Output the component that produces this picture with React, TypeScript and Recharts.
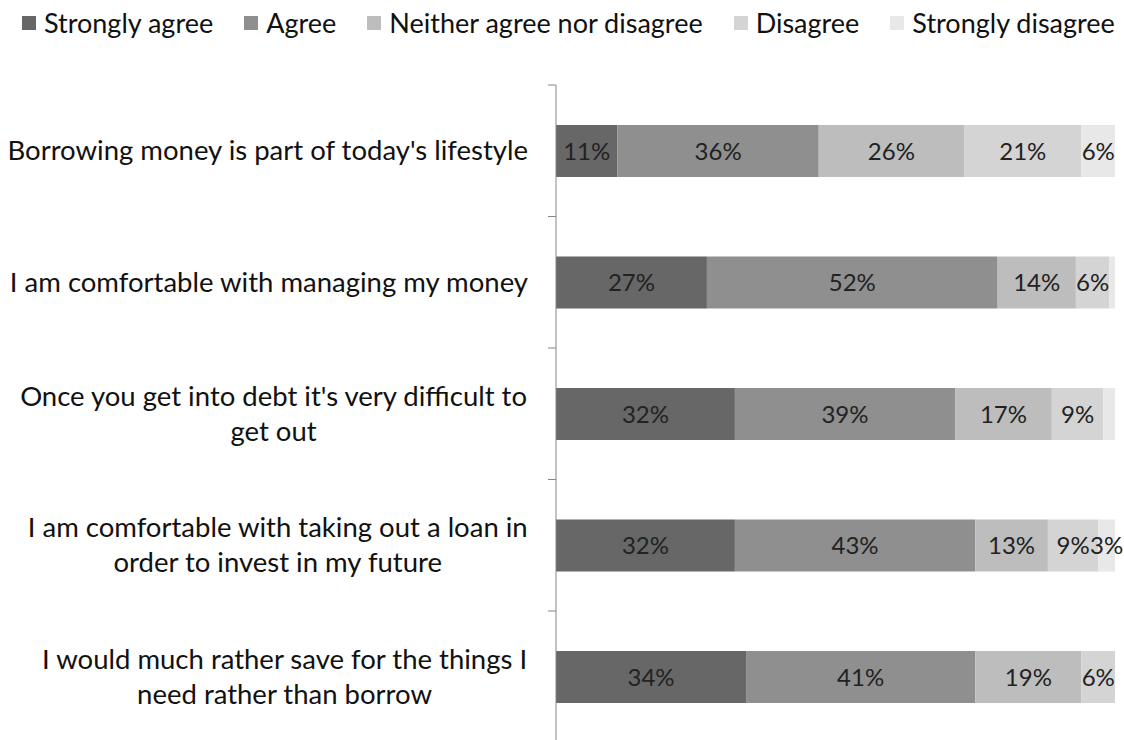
import React from 'react';
import { BarChart, Bar, XAxis, YAxis, LabelList } from 'recharts';

// category text, already broken into lines like the original
const categoryLines: string[][] = [
  ["Borrowing money is part of today's lifestyle"],
  ['I am comfortable with managing my money'],
  ["Once you get into debt it's very difficult to", 'get out'],
  ['I am comfortable with taking out a loan in', 'order to invest in my future'],
  ['I would much rather save for the things I', 'need rather than borrow'],
];

const seriesNames = ['Strongly agree', 'Agree', 'Neither agree nor disagree', 'Disagree', 'Strongly disagree'];
const seriesColors = ['#676767', '#8f8f8f', '#bdbdbd', '#d4d4d4', '#e8e8e8'];

const stronglyAgree = [11, 27, 32, 32, 34];
const agree = [36, 52, 39.4, 43, 41];
const neither = [26, 14, 17.3, 13, 19];
const disagree = [21, 6, 9.2, 9, 6];
const stronglyDisagree = [6, 1, 2.1, 3, 0];

const keys = ['sa', 'a', 'n', 'd', 'sd'];
const seriesValues = [stronglyAgree, agree, neither, disagree, stronglyDisagree];

const data = categoryLines.map((lines, i) => {
  const row: any = { name: lines.join(' ') };
  keys.forEach((k, s) => { row[k] = seriesValues[s][i]; });
  return row;
});

const FONT = 'Lato, "Open Sans", sans-serif';
const CAT_SIZE = 27.5;
const LABEL_SIZE = 24;
const W = 1124;
const H = 745;
const TOP = 85;
const AXIS_W = 556;
const RIGHT = 9;
const PLOT_H = 657.5;
const BAND = PLOT_H / categoryLines.length;

let measureCtx: CanvasRenderingContext2D | null = null;
const measure = (s: string) => {
  if (!measureCtx) {
    measureCtx = document.createElement('canvas').getContext('2d');
  }
  if (!measureCtx) return s.length * 12;
  measureCtx.font = `${CAT_SIZE}px ${FONT}`;
  return measureCtx.measureText(s).width;
};

const CategoryTick = (props: any) => {
  const { y, index } = props;
  const lines = categoryLines[index] || [];
  const right = AXIS_W - 28;
  const maxW = Math.max(...lines.map(measure));
  const cx = right - maxW / 2;
  const lh = 35;
  const startY = y - ((lines.length - 1) * lh) / 2;
  return (
    <g>
      <line x1={AXIS_W - 8} x2={AXIS_W} y1={y - BAND / 2} y2={y - BAND / 2} stroke="#868686" />
      {index === categoryLines.length - 1 && (
        <line x1={AXIS_W - 8} x2={AXIS_W} y1={y + BAND / 2} y2={y + BAND / 2} stroke="#868686" />
      )}
      {lines.map((l, i) => (
        <text
          key={i}
          x={lines.length > 1 ? cx : right}
          y={startY + i * lh}
          dy="0.35em"
          textAnchor={lines.length > 1 ? 'middle' : 'end'}
          fontFamily={FONT}
          fontSize={CAT_SIZE}
          fill="#111"
        >
          {l}
        </text>
      ))}
    </g>
  );
};

const fmt = (v: any) => (Number(v) >= 2.5 ? `${Math.round(Number(v))}%` : '');

export default function App() {
  return (
    <div style={{ position: 'absolute', left: 0, top: 0, width: W, height: 740, overflow: 'hidden', background: '#fff' }}>
      <div
        style={{
          position: 'absolute',
          left: 22,
          top: 7,
          display: 'flex',
          gap: 31,
          fontFamily: FONT,
          fontSize: 27,
          color: '#111',
          whiteSpace: 'nowrap',
          lineHeight: '32px',
        }}
      >
        {seriesNames.map((n, i) => (
          <div key={n} style={{ display: 'flex', alignItems: 'center' }}>
            <span style={{ width: 14, height: 14, background: seriesColors[i], marginRight: 8, display: 'inline-block' }} />
            {n}
          </div>
        ))}
      </div>
      <BarChart
        width={W}
        height={H}
        data={data}
        layout="vertical"
        margin={{ top: TOP, right: RIGHT, left: 0, bottom: H - TOP - PLOT_H }}
      >
        <XAxis type="number" domain={[0, 100]} hide />
        <YAxis
          type="category"
          dataKey="name"
          width={AXIS_W}
          axisLine={{ stroke: '#868686' }}
          tickLine={false}
          tick={<CategoryTick />}
          interval={0}
        />
        {keys.map((k, s) => (
          <Bar key={k} dataKey={k} stackId="x" fill={seriesColors[s]} barSize={52} isAnimationActive={false}>
            <LabelList
              dataKey={k}
              position="center"
              formatter={fmt}
              fill="#222"
              fontFamily={FONT}
              fontSize={LABEL_SIZE}
            />
          </Bar>
        ))}
      </BarChart>
    </div>
  );
}
